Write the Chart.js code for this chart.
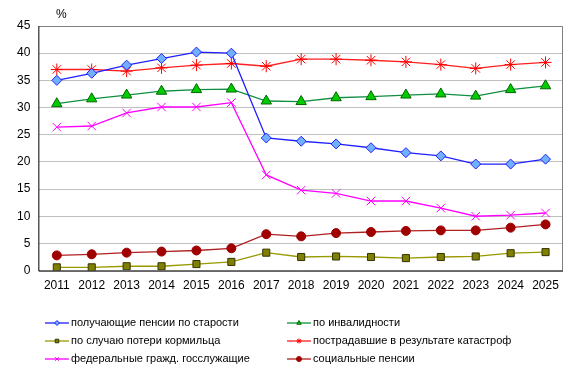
<!DOCTYPE html>
<html>
<head>
<meta charset="utf-8">
<script src="https://cdn.jsdelivr.net/npm/chart.js@4/dist/chart.umd.min.js"></script>
<style>
  html, body { margin: 0; padding: 0; background: #fff; }
  #wrap { width: 576px; height: 373px; position: relative; }
</style>
</head>
<body>
<div id="wrap"><canvas id="pensChart"></canvas></div>
<script>
// data
const years = ['2011', '2012', '2013', '2014', '2015', '2016', '2017', '2018',
    '2019', '2020', '2021', '2022', '2023', '2024', '2025'];
const oldAge = [35.0, 36.3, 37.8, 39.0, 40.2, 40.0, 24.4, 23.8, 23.3, 22.6, 21.7, 21.1, 19.6, 19.6, 20.5];
const disability = [30.7, 31.6, 32.3, 33.0, 33.3, 33.4, 31.2, 31.1, 31.8, 32.0, 32.3, 32.5, 32.1, 33.3, 34.0];
const survivor = [0.6, 0.6, 0.8, 0.8, 1.2, 1.6, 3.3, 2.5, 2.6, 2.5, 2.3, 2.5, 2.6, 3.2, 3.4];
const disaster = [37.0, 37.0, 36.7, 37.3, 37.8, 38.1, 37.6, 38.9, 38.9, 38.7, 38.4, 37.9, 37.2, 37.9, 38.3];
const civilServ = [26.4, 26.6, 29.0, 30.1, 30.1, 30.9, 17.6, 14.8, 14.2, 12.8, 12.8, 11.5, 10.0, 10.2, 10.6];
const social = [2.8, 3.0, 3.3, 3.5, 3.7, 4.1, 6.7, 6.3, 6.9, 7.1, 7.3, 7.4, 7.4, 7.9, 8.5];
const yTicks = [0, 5, 10, 15, 20, 25, 30, 35, 40, 45];

const FONT = 'Arial, "Liberation Sans", sans-serif';

function series(label, data, line, fill, border, style, r) {
    return {
        label: label,
        data: data,
        borderColor: line,
        borderWidth: 1.3,
        pointStyle: style,
        pointRadius: r,
        pointBackgroundColor: fill,
        pointBorderColor: border,
        pointBorderWidth: 1,
        tension: 0
    };
}

// gray frame, % sign and the two-column legend
const extras = {
    id: 'extras',
    afterDraw(chart) {
        const c = chart.ctx;
        const a = chart.chartArea;
        c.save();
        c.strokeStyle = '#808080';
        c.lineWidth = 1;
        c.beginPath();
        c.moveTo(a.left, a.top + 0.5);
        c.lineTo(a.right - 0.5, a.top + 0.5);
        c.lineTo(a.right - 0.5, a.bottom);
        c.stroke();
        c.strokeStyle = '#000';
        c.beginPath();
        c.moveTo(a.left - 0.5, a.top);
        c.lineTo(a.left - 0.5, a.bottom + 0.5);
        c.lineTo(a.right, a.bottom + 0.5);
        c.stroke();

        c.fillStyle = '#000';
        c.font = '12px ' + FONT;
        c.textBaseline = 'middle';
        c.fillText('%', 56, 15);

        c.font = '11px ' + FONT;
        chart.data.datasets.forEach((ds, i) => {
            const x0 = (i % 2) ? 287 : 45;
            const y = 323 + Math.floor(i / 2) * 18;
            c.strokeStyle = ds.borderColor;
            c.lineWidth = 1.3;
            c.beginPath();
            c.moveTo(x0, y);
            c.lineTo(x0 + 24, y);
            c.stroke();
            c.fillStyle = ds.pointBackgroundColor;
            c.strokeStyle = ds.pointBorderColor;
            c.lineWidth = 1;
            Chart.helpers.drawPoint(c, {
                pointStyle: ds.pointStyle,
                radius: 2.5,
                borderWidth: 1
            }, x0 + 12, y);
            c.fillStyle = '#000';
            c.fillText(ds.label, x0 + 26, y);
        });
        c.restore();
    }
};

const ctx = document.getElementById('pensChart');
new Chart(ctx, {
    type: 'line',
    data: {
        labels: years,
        datasets: [
            series('получающие пенсии по старости', oldAge, '#2020ff', '#6fb0ff', '#2020ff', 'rectRot', 5),
            series('по инвалидности', disability, '#109040', '#00cc00', '#006600', 'triangle', 6),
            series('по случаю потери кормильца', survivor, '#999900', '#808000', '#333300', 'rect', 5),
            series('пострадавшие в результате катастроф', disaster, '#ff2020', '#ff0000', '#ff0000', 'star', 6),
            series('федеральные гражд. госслужащие', civilServ, '#ff00ff', '#ff00ff', '#ff00ff', 'crossRot', 6),
            series('социальные пенсии', social, '#b02020', '#a00000', '#a00000', 'circle', 4.5)
        ]
    },
    options: {
        responsive: true,
        maintainAspectRatio: false,
        animation: false,
        layout: { padding: { left: 8, right: 13, top: 26, bottom: 72 } },
        plugins: {
            legend: { display: false },
            tooltip: { enabled: false }
        },
        scales: {
            x: {
                offset: true,
                grid: { display: false, drawTicks: false },
                border: { display: false },
                ticks: { color: '#000', font: { size: 12, family: FONT }, padding: 8, maxRotation: 0 }
            },
            y: {
                min: 0,
                max: 45,
                afterBuildTicks: axis => { axis.ticks = yTicks.map(v => ({ value: v })); },
                grid: { color: '#c0c0c0', drawTicks: false },
                border: { display: false },
                ticks: { color: '#000', font: { size: 12, family: FONT }, padding: 9 }
            }
        }
    },
    plugins: [extras]
});
</script>
</body>
</html>
